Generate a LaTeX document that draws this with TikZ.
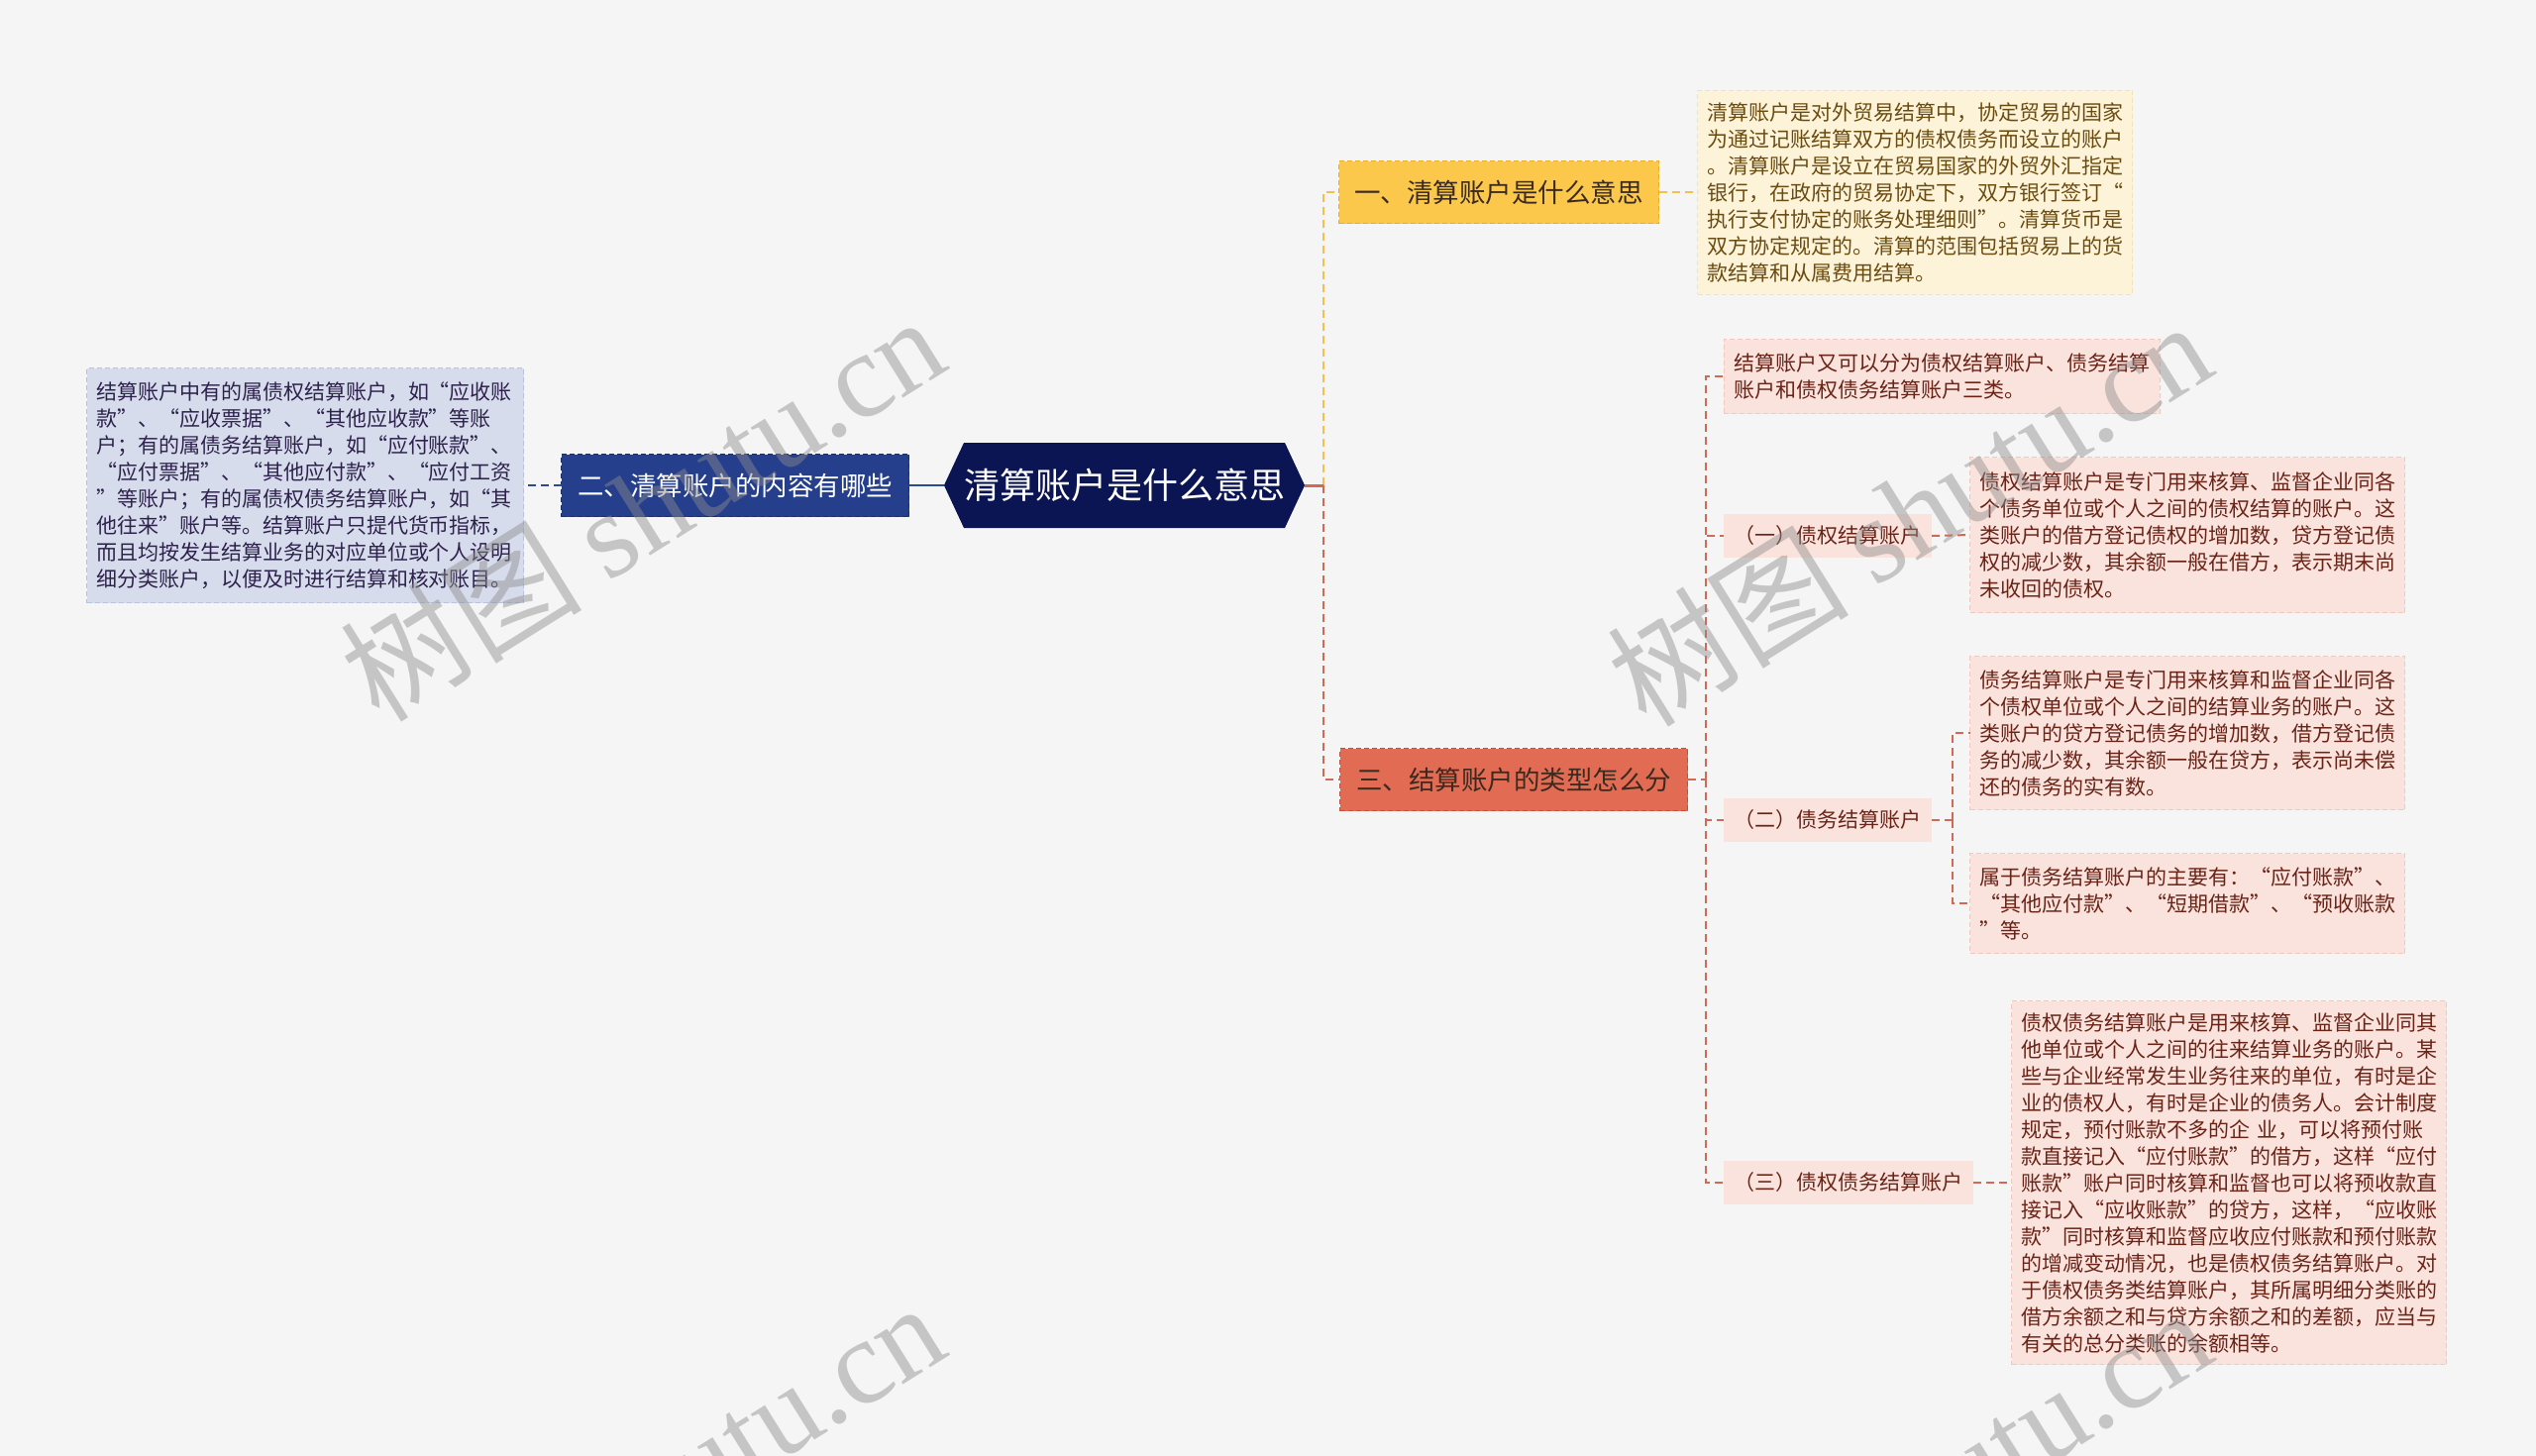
\documentclass[tikz,border=0pt]{standalone}
\usepackage{fontspec}
\setmainfont{Noto Sans CJK SC}
\newfontfamily\wmlatin{Liberation Serif}
\usetikzlibrary{shapes.symbols}
\definecolor{bgc}{HTML}{F5F5F5}
\definecolor{navy}{HTML}{0C1553}
\definecolor{blueN}{HTML}{253F8C}
\definecolor{blueB}{HTML}{1A2F6E}
\definecolor{blueL}{HTML}{D6DCEC}
\definecolor{blueLB}{HTML}{B9C2DC}
\definecolor{yelN}{HTML}{FBC84B}
\definecolor{yelB}{HTML}{E5AE2E}
\definecolor{yelL}{HTML}{FDF3D9}
\definecolor{yelLB}{HTML}{F3E2B4}
\definecolor{yelT}{HTML}{6B4C10}
\definecolor{redN}{HTML}{E26B54}
\definecolor{redB}{HTML}{C4503B}
\definecolor{redL}{HTML}{FBE3DD}
\definecolor{redLB}{HTML}{F0C8BF}
\definecolor{redT}{HTML}{6A2317}
\definecolor{lineB}{HTML}{2C4A8E}
\definecolor{lineY}{HTML}{F2C04E}
\definecolor{lineR}{HTML}{D06A55}
\definecolor{darkT}{HTML}{3A2A20}
\begin{document}
\begin{tikzpicture}[x=1pt,y=-1pt,
  every node/.style={inner sep=0pt, outer sep=0pt},
  smallfont/.style={font=\fontsize{21pt}{27pt}\selectfont},
  topic/.style={rectangle, draw, dashed, dash pattern=on 5pt off 3pt, line width=1.2pt,
     font=\fontsize{26.5pt}{30pt}\selectfont, minimum height=63pt},
  txtbox/.style={rectangle, smallfont, align=left, text width=420pt, draw, dashed,
     dash pattern=on 5pt off 3pt, line width=0.8pt, minimum width=439pt},
  label/.style={rectangle, smallfont, minimum height=44pt, fill=redL, text=redT},
  bconn/.style={draw=lineB, line width=2.5pt},
  bdash/.style={draw=lineB, line width=2pt, dash pattern=on 8pt off 5pt},
  ydash/.style={draw=lineY, line width=2pt, dash pattern=on 8pt off 5pt},
  rdash/.style={draw=lineR, line width=2pt, dash pattern=on 8pt off 5pt},
  rsolid/.style={draw=lineR, line width=3pt},
  wmark/.style={font=\fontsize{122pt}{130pt}\selectfont, text=black!45, opacity=0.45, rotate=32}
]
\fill[bgc] (0,0) rectangle (2560,1470);
\useasboundingbox (0,0) rectangle (2560,1470);

% root
\node[signal, signal to=west and east, signal pointer angle=130, fill=navy,
  minimum width=361pt, minimum height=86pt, text=white,
  font=\fontsize{36pt}{40pt}\selectfont] (root) at (1135,490) {清算账户是什么意思};

% left branch
\node[topic, fill=blueN, draw=blueB, text=white, minimum width=351pt] (n2) at (742,490) {二、清算账户的内容有哪些};
\node[txtbox, fill=blueL, draw=blueLB, text=darkT!80!blue, minimum height=237pt, text width=422pt, minimum width=441pt] (lb) at (308,490)
{结算账户中有的属债权结算账户，如“应收账\\
款”、“应收票据”、“其他应收款”等账\\
户；有的属债务结算账户，如“应付账款”、\\
“应付票据”、“其他应付款”、“应付工资\\
”等账户；有的属债权债务结算账户，如“其\\
他往来”账户等。结算账户只提代货币指标，\\
而且均按发生结算业务的对应单位或个人设明\\
细分类账户，以便及时进行结算和核对账目。};

% top branch
\node[topic, fill=yelN, draw=yelB, text=darkT, minimum width=323pt] (n1) at (1513,194) {一、清算账户是什么意思};
\node[txtbox, fill=yelL, draw=yelLB, text=yelT, minimum height=206pt] (cb) at (1933,194)
{清算账户是对外贸易结算中，协定贸易的国家\\
为通过记账结算双方的债权债务而设立的账户\\
。清算账户是设立在贸易国家的外贸外汇指定\\
银行，在政府的贸易协定下，双方银行签订“\\
执行支付协定的账务处理细则”。清算货币是\\
双方协定规定的。清算的范围包括贸易上的货\\
款结算和从属费用结算。};

% bottom branch
\node[topic, fill=redN, draw=redB, text=darkT, minimum width=351pt] (n3) at (1528,787) {三、结算账户的类型怎么分};
\node[txtbox, fill=redL, draw=redLB, text=redT, minimum height=75pt, minimum width=440pt] (ta) at (1960,380)
{结算账户又可以分为债权结算账户、债务结算\\
账户和债权债务结算账户三类。};

\node[label, minimum width=210pt] (l1) at (1845,541) {（一）债权结算账户};
\node[txtbox, fill=redL, draw=redLB, text=redT, minimum height=157pt] (b1) at (2208,540)
{债权结算账户是专门用来核算、监督企业同各\\
个债务单位或个人之间的债权结算的账户。这\\
类账户的借方登记债权的增加数，贷方登记债\\
权的减少数，其余额一般在借方，表示期末尚\\
未收回的债权。};

\node[label, minimum width=210pt] (l2) at (1845,828) {（二）债务结算账户};
\node[txtbox, fill=redL, draw=redLB, text=redT, minimum height=155pt] (b2a) at (2208,740)
{债务结算账户是专门用来核算和监督企业同各\\
个债权单位或个人之间的结算业务的账户。这\\
类账户的贷方登记债务的增加数，借方登记债\\
务的减少数，其余额一般在贷方，表示尚未偿\\
还的债务的实有数。};
\node[txtbox, fill=redL, draw=redLB, text=redT, minimum height=101pt] (b2b) at (2208,912)
{属于债务结算账户的主要有：“应付账款”、\\
“其他应付款”、“短期借款”、“预收账款\\
”等。};

\node[label, minimum width=252pt] (l3) at (1866,1194) {（三）债权债务结算账户};
\node[txtbox, fill=redL, draw=redLB, text=redT, minimum height=367pt] (b3) at (2250,1194)
{债权债务结算账户是用来核算、监督企业同其\\
他单位或个人之间的往来结算业务的账户。某\\
些与企业经常发生业务往来的单位，有时是企\\
业的债权人，有时是企业的债务人。会计制度\\
规定，预付账款不多的企 业，可以将预付账\\
款直接记入“应付账款”的借方，这样“应付\\
账款”账户同时核算和监督也可以将预收款直\\
接记入“应收账款”的贷方，这样，“应收账\\
款”同时核算和监督应收应付账款和预付账款\\
的增减变动情况，也是债权债务结算账户。对\\
于债权债务类结算账户，其所属明细分类账的\\
借方余额之和与贷方余额之和的差额，应当与\\
有关的总分类账的余额相等。};

% junctions
\coordinate (j0) at (1336,490);
\coordinate (j3) at (1722,787);
\coordinate (j2) at (1971,828);

% connectors
\draw[bconn] (root.west) -- (n2.east);
\draw[bdash] (n2.west) -- (lb.east);
\draw[ydash] (j0) |- (n1.west);
\draw[rdash] (j0) |- (n3.west);
\draw[rsolid] (root.east) -- (j0);
\draw[ydash] (n1.east) -- (cb.west);
\draw[rdash] (n3.east) -- (j3);
\draw[rdash] (j3) |- (ta.west);
\draw[rdash] (j3) |- (l1.west);
\draw[rdash] (j3) |- (l2.west);
\draw[rdash] (j3) |- (l3.west);
\draw[rdash] (l1.east) -- (b1.west);
\draw[rdash] (l2.east) -- (j2);
\draw[rdash] (j2) |- (b2a.west);
\draw[rdash] (j2) |- (b2b.west);
\draw[rdash] (l3.east) -- (b3.west);

% watermarks
\node[wmark] (w1) at (648,512) {树图 {\wmlatin shutu.cn}};
\node[wmark] (w2) at (1927,517) {树图 {\wmlatin shutu.cn}};
\node[wmark] (w3) at (648,1508) {树图 {\wmlatin shutu.cn}};
\node[wmark] (w4) at (1927,1513) {树图 {\wmlatin shutu.cn}};
\end{tikzpicture}
\end{document}
